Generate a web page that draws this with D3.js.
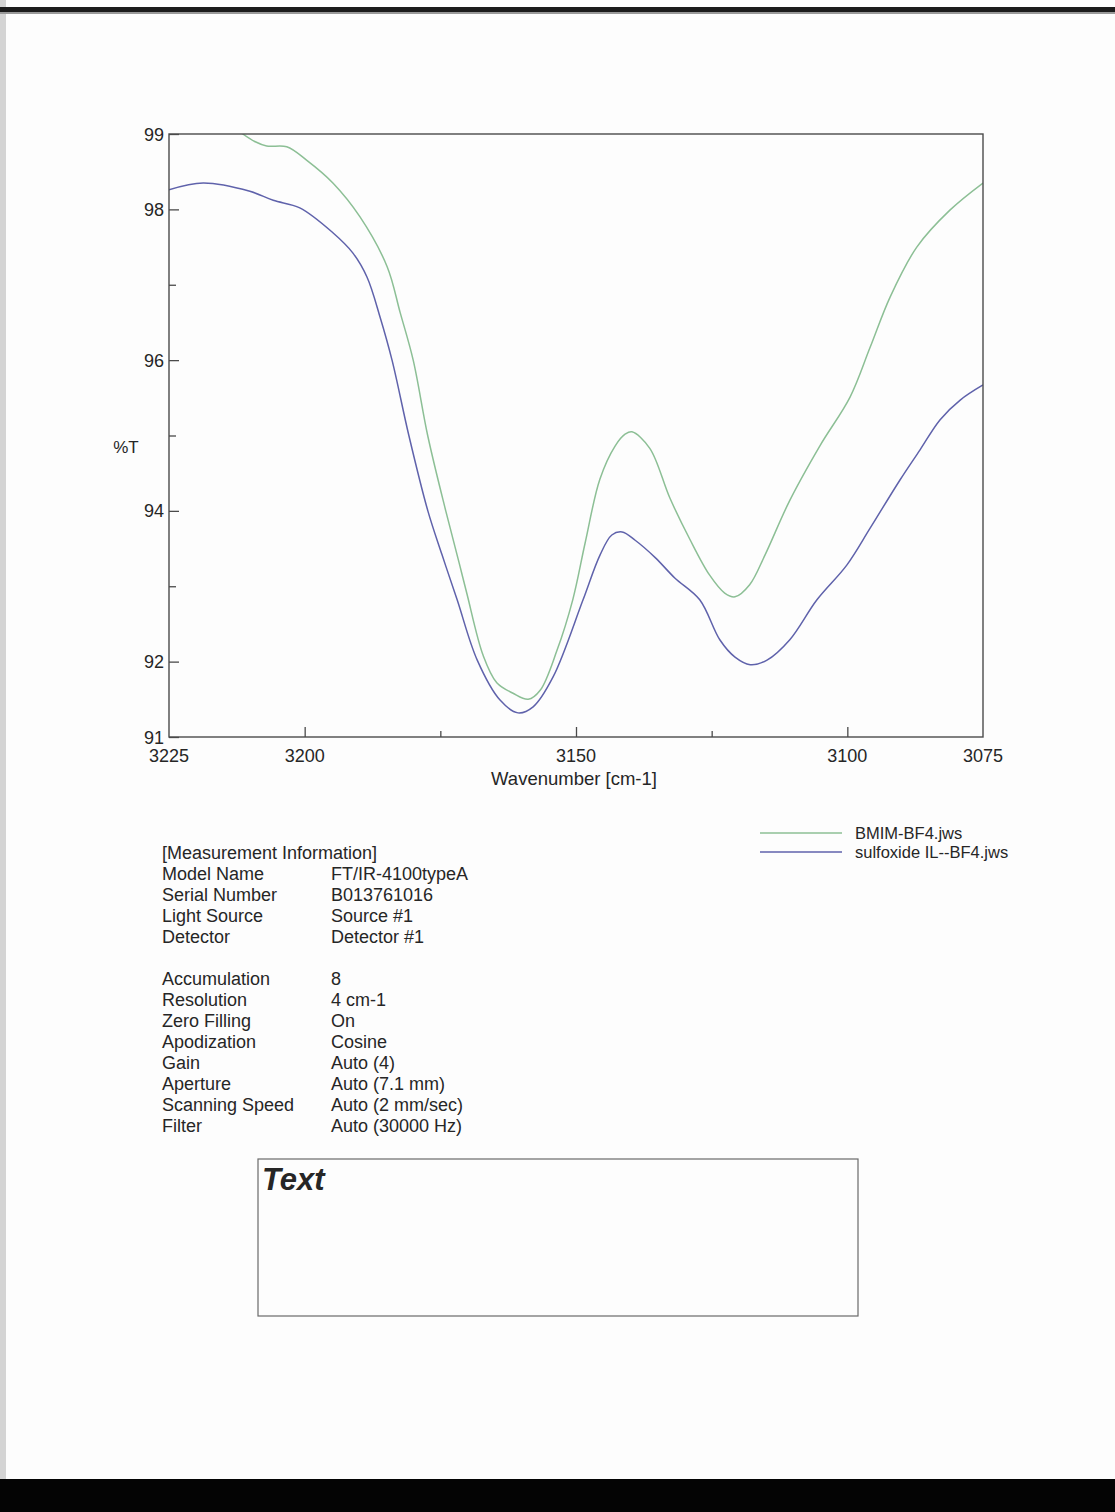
<!DOCTYPE html>
<html>
<head>
<meta charset="utf-8">
<script src="https://cdn.jsdelivr.net/npm/d3@7"></script>
<style>
  html, body { margin: 0; padding: 0; background: #fdfdfd; }
  svg { display: block; }
  text { font-family: "Liberation Sans", Arial, sans-serif; fill: #262626; }
</style>
</head>
<body>
<svg id="page" width="1115" height="1512"></svg>
<script>
// FT/IR spectra, C-H stretch region (wavenumber in cm-1, transmittance in %T)
const bmimWave = [3225, 3214.7, 3211.4, 3209.2, 3207.0, 3203.3, 3199.6, 3194.8, 3189.8, 3184.8,
  3182.4, 3180.0, 3177.3, 3174.0, 3171.5, 3170.1, 3167.1, 3164.6, 3161.6, 3158.8, 3156.6, 3153.5,
  3150.6, 3148.3, 3145.6, 3142.8, 3140.9, 3139.7, 3136.4, 3132.7, 3129.0, 3125.4, 3122.6, 3120.7,
  3118.0, 3115.2, 3110.6, 3105.0, 3099.5, 3095.8, 3092.1, 3087.2, 3081.1, 3075.0];
const bmimT = [99.45, 99.19, 99.00, 98.90, 98.84, 98.83, 98.65, 98.35, 97.90, 97.24,
  96.63, 96.00, 94.99, 94.00, 93.30, 92.90, 92.08, 91.72, 91.58, 91.50, 91.62, 92.15,
  92.82, 93.58, 94.42, 94.86, 95.02, 95.05, 94.83, 94.17, 93.62, 93.15, 92.91, 92.86,
  93.02, 93.41, 94.14, 94.87, 95.51, 96.17, 96.84, 97.50, 97.99, 98.35];

const sulfWave = [3225, 3218.7, 3210.1, 3205.8, 3200.9, 3194.8, 3191.1, 3188.5, 3186.1, 3183.9,
  3180.8, 3177.3, 3174.7, 3171.9, 3168.2, 3164.0, 3160.7, 3157.9, 3154.2, 3148.7, 3145.6, 3143.4,
  3141.5, 3139.1, 3135.4, 3131.8, 3127.2, 3123.5, 3120.7, 3117.9, 3114.8, 3110.6, 3105.6,
  3100.1, 3095.8, 3090.3, 3086.6, 3082.9, 3079.2, 3075.0];
const sulfT = [98.26, 98.35, 98.24, 98.12, 98.02, 97.69, 97.42, 97.10, 96.57, 96.00,
  95.00, 94.00, 93.42, 92.82, 92.02, 91.49, 91.32, 91.40, 91.80, 92.82, 93.41, 93.68,
  93.72, 93.61, 93.38, 93.11, 92.82, 92.29, 92.06, 91.96, 92.02, 92.29, 92.82,
  93.28, 93.77, 94.41, 94.81, 95.21, 95.47, 95.67];

const seriesNames = ["BMIM-BF4.jws", "sulfoxide IL--BF4.jws"];
const seriesColors = ["#8cbf95", "#5f62ab"];

const yMajorTicks = [99, 98, 96, 94, 92, 91];
const yMinorTicks = [97, 95, 93];
const xMajorTicks = [3200, 3150, 3100];
const xMinorTicks = [3175, 3125];
const xEndLabels = [3225, 3075];

const infoLabels = ["[Measurement Information]", "Model Name", "Serial Number", "Light Source", "Detector", "",
  "Accumulation", "Resolution", "Zero Filling", "Apodization", "Gain", "Aperture", "Scanning Speed", "Filter"];
const infoValues = ["", "FT/IR-4100typeA", "B013761016", "Source #1", "Detector #1", "",
  "8", "4 cm-1", "On", "Cosine", "Auto (4)", "Auto (7.1 mm)", "Auto (2 mm/sec)", "Auto (30000 Hz)"];

const svg = d3.select("#page");

// paper edges
svg.append("rect").attr("x", 0).attr("y", 0).attr("width", 6).attr("height", 1512).attr("fill", "#d4d4d4");
svg.append("rect").attr("x", 0).attr("y", 7).attr("width", 1115).attr("height", 5).attr("fill", "#1c1c1c");
svg.append("rect").attr("x", 0).attr("y", 12).attr("width", 1115).attr("height", 2).attr("fill", "#9a9a9a");
svg.append("rect").attr("x", 0).attr("y", 1479).attr("width", 1115).attr("height", 33).attr("fill", "#040404");

const plot = { left: 169, right: 983, top: 134, bottom: 737 };
const x = d3.scaleLinear().domain([3225, 3075]).range([plot.left, plot.right]);
const y = d3.scaleLinear().domain([91, 99]).range([plot.bottom, plot.top]);

svg.append("clipPath").attr("id", "plotClip")
  .append("rect").attr("x", plot.left).attr("y", plot.top)
  .attr("width", plot.right - plot.left).attr("height", plot.bottom - plot.top);

const line = d3.line().x(d => x(d[0])).y(d => y(d[1])).curve(d3.curveCatmullRom.alpha(0.5));
const series = [d3.zip(bmimWave, bmimT), d3.zip(sulfWave, sulfT)];

const curves = svg.append("g").attr("clip-path", "url(#plotClip)");
series.forEach((s, i) => {
  curves.append("path").datum(s).attr("d", line)
    .attr("fill", "none").attr("stroke", seriesColors[i]).attr("stroke-width", 1.5);
});

// frame
svg.append("rect").attr("x", plot.left).attr("y", plot.top)
  .attr("width", plot.right - plot.left).attr("height", plot.bottom - plot.top)
  .attr("fill", "none").attr("stroke", "#4a4a4a").attr("stroke-width", 1.4);

const styleTicks = g => g.call(s => s.select(".domain").remove())
  .call(s => s.selectAll("line").attr("stroke", "#4a4a4a").attr("stroke-width", 1.3));

// y axis: ticks point inward
svg.append("g").attr("transform", `translate(${plot.left},0)`)
  .call(d3.axisRight(y).tickValues(yMajorTicks).tickSize(10).tickFormat("")).call(styleTicks);
svg.append("g").attr("transform", `translate(${plot.left},0)`)
  .call(d3.axisRight(y).tickValues(yMinorTicks).tickSize(7).tickFormat("")).call(styleTicks);
svg.append("g").selectAll("text").data(yMajorTicks).join("text")
  .attr("x", plot.left - 5).attr("y", d => y(d) + 6.5)
  .attr("text-anchor", "end").attr("font-size", 18).text(d => d);

// x axis: ticks point inward (upward)
svg.append("g").attr("transform", `translate(0,${plot.bottom})`)
  .call(d3.axisTop(x).tickValues(xMajorTicks).tickSize(10).tickFormat("")).call(styleTicks);
svg.append("g").attr("transform", `translate(0,${plot.bottom})`)
  .call(d3.axisTop(x).tickValues(xMinorTicks).tickSize(6).tickFormat("")).call(styleTicks);
svg.append("g").selectAll("text").data(xEndLabels.concat(xMajorTicks)).join("text")
  .attr("x", d => x(d)).attr("y", plot.bottom + 25)
  .attr("text-anchor", "middle").attr("font-size", 18).text(d => d);

svg.append("text").attr("x", 574).attr("y", 785)
  .attr("text-anchor", "middle").attr("font-size", 18.5).text("Wavenumber [cm-1]");
svg.append("text").attr("x", 126).attr("y", 453)
  .attr("text-anchor", "middle").attr("font-size", 17).text("%T");

// legend
const legend = svg.append("g");
seriesNames.forEach((name, i) => {
  const ly = 833 + i * 19;
  legend.append("line").attr("x1", 760).attr("x2", 842).attr("y1", ly).attr("y2", ly)
    .attr("stroke", seriesColors[i]).attr("stroke-width", 1.3);
  legend.append("text").attr("x", 855).attr("y", ly + 5.5).attr("font-size", 16.5).text(name);
});

// measurement information block
const info = svg.append("g");
infoLabels.forEach((lab, i) => {
  const ty = 859 + i * 21;
  if (lab) info.append("text").attr("x", 162).attr("y", ty).attr("font-size", 18).text(lab);
  if (infoValues[i]) info.append("text").attr("x", 331).attr("y", ty).attr("font-size", 18).text(infoValues[i]);
});

// comment box
svg.append("rect").attr("x", 258).attr("y", 1159).attr("width", 600).attr("height", 157)
  .attr("fill", "none").attr("stroke", "#6a6a6a").attr("stroke-width", 1.2);
svg.append("text").attr("x", 262).attr("y", 1190).attr("font-size", 31)
  .attr("font-weight", "bold").attr("font-style", "italic").attr("fill", "#2a2a2a").text("Text");
</script>
</body>
</html>
